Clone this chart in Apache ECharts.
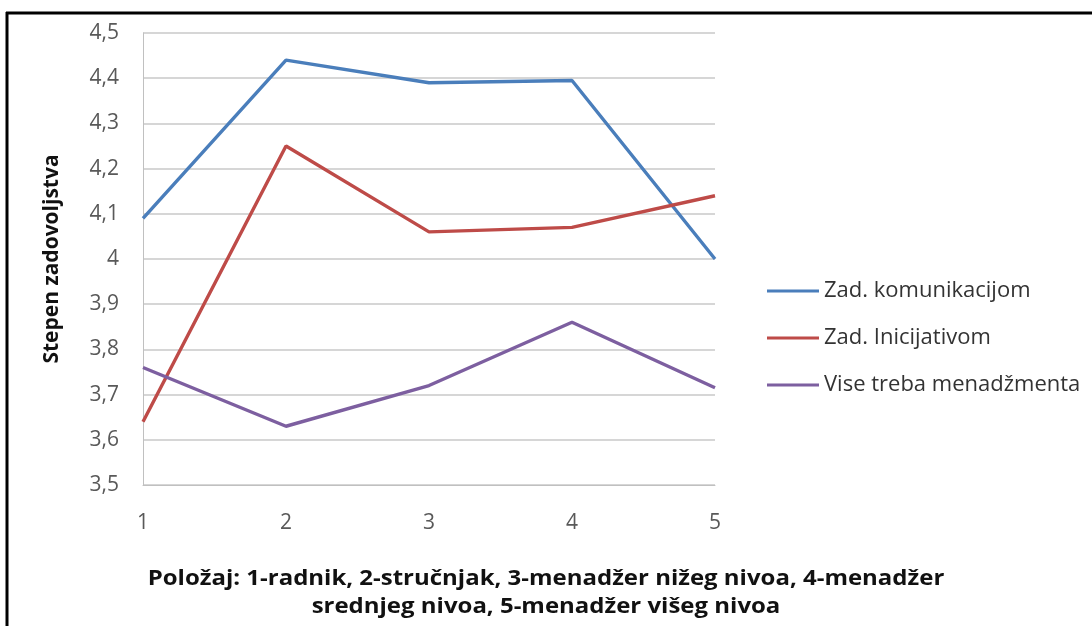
<!DOCTYPE html>
<html>
<head>
<meta charset="utf-8">
<script src="https://cdn.jsdelivr.net/npm/echarts@6/dist/echarts.min.js"></script>
<style>
  html, body { margin: 0; padding: 0; background: #fff; }
  #chart { width: 1092px; height: 626px; }
</style>
</head>
<body>
<div id="chart"></div>
<script>
// Position categories (1 = radnik ... 5 = menadžer višeg nivoa)
const categories = ['1', '2', '3', '4', '5'];

// Satisfaction level per position
const komunikacijom = [4.09, 4.44, 4.39, 4.395, 4.0];
const inicijativom = [3.64, 4.25, 4.06, 4.07, 4.14];
const menadzmenta = [3.76, 3.63, 3.72, 3.86, 3.715];

const seriesNames = ['Zad. komunikacijom', 'Zad. Inicijativom', 'Vise treba menadžmenta'];
const yTitle = 'Stepen zadovoljstva';
const xTitle = 'Položaj: 1-radnik, 2-stručnjak, 3-menadžer nižeg nivoa, 4-menadžer\nsrednjeg nivoa, 5-menadžer višeg nivoa';

const FONT = '"Open Sans", "Noto Sans", sans-serif';
const colors = ['#4A7EBB', '#BE4B48', '#7D5FA0'];

const chart = echarts.init(document.getElementById('chart'), null, { renderer: 'canvas' });

function lineSeries(name, data, color) {
  return {
    name: name,
    type: 'line',
    data: data,
    symbol: 'none',
    lineStyle: { color: color, width: 3.4 },
    itemStyle: { color: color },
    emphasis: { disabled: true },
    animation: false
  };
}

chart.setOption({
  animation: false,
  backgroundColor: '#fff',
  grid: { left: 143, right: 377, top: 33, bottom: 141, containLabel: false },
  legend: {
    orient: 'vertical',
    left: 762,
    top: 275,
    icon: 'rect',
    itemWidth: 52,
    itemHeight: 3,
    itemGap: 25,
    data: seriesNames,
    textStyle: { fontFamily: FONT, fontSize: 22, color: '#333' },
    selectedMode: false
  },
  xAxis: {
    type: 'category',
    data: categories,
    boundaryGap: false,
    axisLine: { show: true, lineStyle: { color: '#c0c0c0', width: 1 } },
    axisTick: { show: false },
    axisLabel: { fontFamily: FONT, fontSize: 21, color: '#595959', margin: 28 },
    splitLine: { show: false }
  },
  yAxis: {
    type: 'value',
    min: 3.5,
    max: 4.5,
    interval: 0.1,
    name: yTitle,
    nameLocation: 'middle',
    nameRotate: 90,
    nameGap: 80,
    nameTextStyle: { fontFamily: FONT, fontWeight: 'bold', fontSize: 21, color: '#111' },
    axisLine: { show: true, lineStyle: { color: '#c0c0c0', width: 1 } },
    axisTick: { show: false },
    axisLabel: {
      fontFamily: FONT,
      fontSize: 21,
      color: '#595959',
      margin: 24,
      formatter: v => String(+v.toFixed(1)).replace('.', ',')
    },
    splitLine: { show: true, lineStyle: { color: '#c8c8c8', width: 1.5 } }
  },
  graphic: [
    // frame lines along the top and left edges
    { type: 'line', shape: { x1: 6, y1: 13, x2: 1092, y2: 13 }, style: { stroke: '#000', lineWidth: 3 }, silent: true },
    { type: 'line', shape: { x1: 7, y1: 12, x2: 7, y2: 626 }, style: { stroke: '#000', lineWidth: 3 }, silent: true },
    // two-line horizontal axis title, slightly widened
    {
      type: 'text',
      x: 546,
      y: 565,
      scaleX: 1.09,
      silent: true,
      style: {
        text: xTitle,
        fontFamily: FONT,
        fontWeight: 'bold',
        fontSize: 22,
        lineHeight: 28,
        fill: '#111',
        align: 'center',
        verticalAlign: 'top'
      }
    }
  ],
  series: [
    lineSeries(seriesNames[0], komunikacijom, colors[0]),
    lineSeries(seriesNames[1], inicijativom, colors[1]),
    lineSeries(seriesNames[2], menadzmenta, colors[2])
  ]
});
</script>
</body>
</html>
